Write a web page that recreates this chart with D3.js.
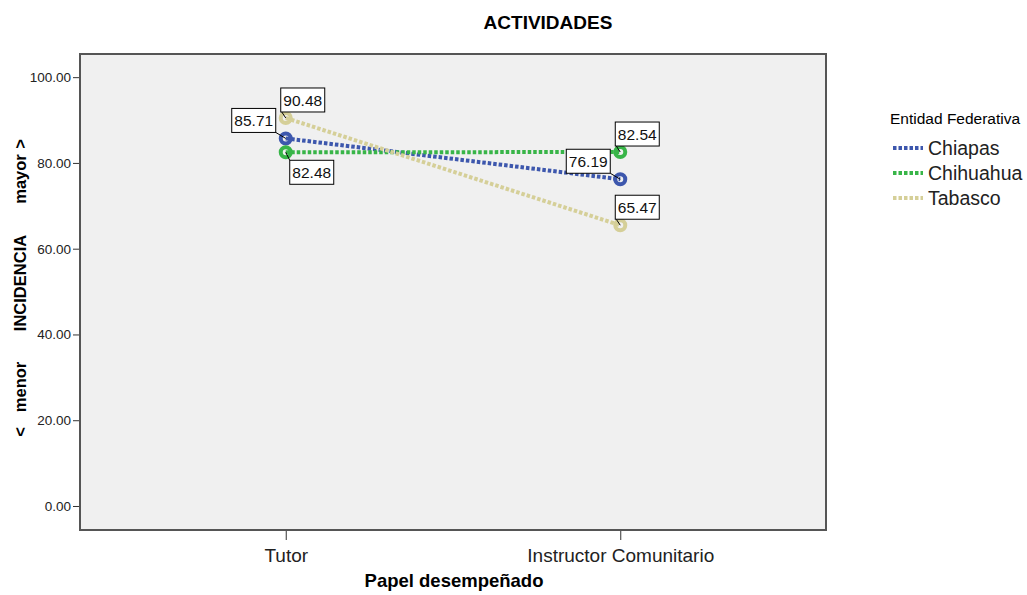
<!DOCTYPE html>
<html>
<head>
<meta charset="utf-8">
<script src="https://cdn.jsdelivr.net/npm/d3@7"></script>
<style>
  body { margin: 0; background: #fff; }
  text { font-family: "Liberation Sans", Arial, sans-serif; }
</style>
</head>
<body>
<svg id="chart" width="1027" height="595"></svg>
<script>
// data
var roles = ["Tutor", "Instructor Comunitario"];
var entidades = ["Chiapas", "Chihuahua", "Tabasco"];
var chiapas = [85.71, 76.19];
var chihuahua = [82.48, 82.54];
var tabasco = [90.48, 65.47];
var yTicks = [0, 20, 40, 60, 80, 100];
var colores = ["#3d57ad", "#38b548", "#d5cf98"];
// where each value box sits relative to its point
var labelPos = [["nw", "w"], ["se", "ne"], ["ne", "ne"]];
// y-axis title pieces and where they sit along the axis
var yTitle = [">", "mayor", "INCIDENCIA", "menor", "<"];
var yTitleAt = [144, 179, 283, 387, 432];

var series = [chiapas, chihuahua, tabasco];

var svg = d3.select("#chart");
var plotL = 80, plotR = 826, plotT = 54, plotB = 530;

var x = d3.scalePoint().domain(roles).range([plotL, plotR]).padding(0.615);
var y = d3.scaleLinear().domain([-5.6, 105.4]).range([plotB, plotT]);

// plot background
svg.append("rect")
  .attr("x", plotL).attr("y", plotT)
  .attr("width", plotR - plotL).attr("height", plotB - plotT)
  .style("fill", "#f0f0f0");

// axes
var yAxis = svg.append("g")
  .attr("transform", "translate(" + plotL + ",0)")
  .call(d3.axisLeft(y).tickValues(yTicks).tickSize(7).tickFormat(d3.format(".2f")));
yAxis.select(".domain").remove();
yAxis.selectAll("line").style("stroke", "#333");
yAxis.selectAll("text").style("font-size", "13.5px").style("fill", "#222")
  .attr("x", -9);

var xAxis = svg.append("g")
  .attr("transform", "translate(0," + plotB + ")")
  .call(d3.axisBottom(x).tickSize(10));
xAxis.select(".domain").remove();
xAxis.selectAll("line").style("stroke", "#333");
xAxis.selectAll("text").style("font-size", "19px").style("fill", "#222")
  .attr("dy", null).attr("y", 32);

// frame
svg.append("rect")
  .attr("x", plotL).attr("y", plotT)
  .attr("width", plotR - plotL).attr("height", plotB - plotT)
  .style("fill", "none").style("stroke", "#555").style("stroke-width", 2);

// lines
var line = d3.line()
  .x(function(d, i) { return x(roles[i]); })
  .y(function(d) { return y(d); });

var g = svg.append("g");
series.forEach(function(s, k) {
  g.append("path")
    .datum(s)
    .attr("d", line)
    .style("fill", "none")
    .style("stroke", colores[k])
    .style("stroke-width", 4)
    .style("stroke-dasharray", "3.5,2");
});
series.forEach(function(s, k) {
  g.selectAll(".pt" + k)
    .data(s)
    .enter()
    .append("circle")
    .attr("cx", function(d, i) { return x(roles[i]); })
    .attr("cy", function(d) { return y(d); })
    .attr("r", 5)
    .style("fill", "none")
    .style("stroke", colores[k])
    .style("stroke-width", 4);
});

// value labels
series.forEach(function(s, k) {
  s.forEach(function(v, i) {
    var px = x(roles[i]), py = y(v);
    var w = 44, h = 24, bx, by, cx, cy;
    var pos = labelPos[k][i];
    if (pos == "ne") { bx = px - 5; by = py - 30; cx = px - 4; cy = py - 6; }
    if (pos == "nw") { bx = px - 54; by = py - 30; cx = px - 10; cy = py - 6; }
    if (pos == "se") { bx = px + 4; by = py + 8; cx = px + 4; cy = py + 8; }
    if (pos == "w") { bx = px - 54; by = py - 30; cx = px - 10; cy = py - 6; }
    g.append("line")
      .attr("x1", px).attr("y1", py)
      .attr("x2", cx).attr("y2", cy)
      .style("stroke", "#000").style("stroke-width", 1);
    g.append("rect")
      .attr("x", bx).attr("y", by).attr("width", w).attr("height", h)
      .style("fill", "#fff").style("stroke", "#000").style("stroke-width", 1);
    g.append("text")
      .attr("x", bx + w / 2).attr("y", by + 18)
      .attr("text-anchor", "middle")
      .style("font-size", "15.5px").style("fill", "#111")
      .text(v.toFixed(2));
  });
});

// titles
svg.append("text")
  .attr("x", 548).attr("y", 29)
  .attr("text-anchor", "middle")
  .style("font-size", "19px").style("font-weight", "bold")
  .text("ACTIVIDADES");

svg.append("text")
  .attr("x", 454).attr("y", 587)
  .attr("text-anchor", "middle")
  .style("font-size", "18.5px").style("font-weight", "bold")
  .text("Papel desempeñado");

var yt = svg.append("g").attr("transform", "translate(26,0) rotate(-90)");
yTitle.forEach(function(t, i) {
  yt.append("text")
    .attr("x", -yTitleAt[i]).attr("y", 0)
    .attr("text-anchor", "middle")
    .style("font-size", "16.5px").style("font-weight", "bold")
    .text(t);
});

// legend
var legend = svg.append("g").attr("transform", "translate(890,0)");
legend.append("text")
  .attr("x", 0).attr("y", 124)
  .style("font-size", "15.5px")
  .text("Entidad Federativa");
entidades.forEach(function(e, k) {
  var ly = 148 + k * 25;
  legend.append("line")
    .attr("x1", 3).attr("x2", 33).attr("y1", ly).attr("y2", ly)
    .style("stroke", colores[k]).style("stroke-width", 4)
    .style("stroke-dasharray", "3.5,2");
  legend.append("text")
    .attr("x", 38).attr("y", ly + 7)
    .style("font-size", "19.5px").style("fill", "#222")
    .text(e);
});
</script>
</body>
</html>
